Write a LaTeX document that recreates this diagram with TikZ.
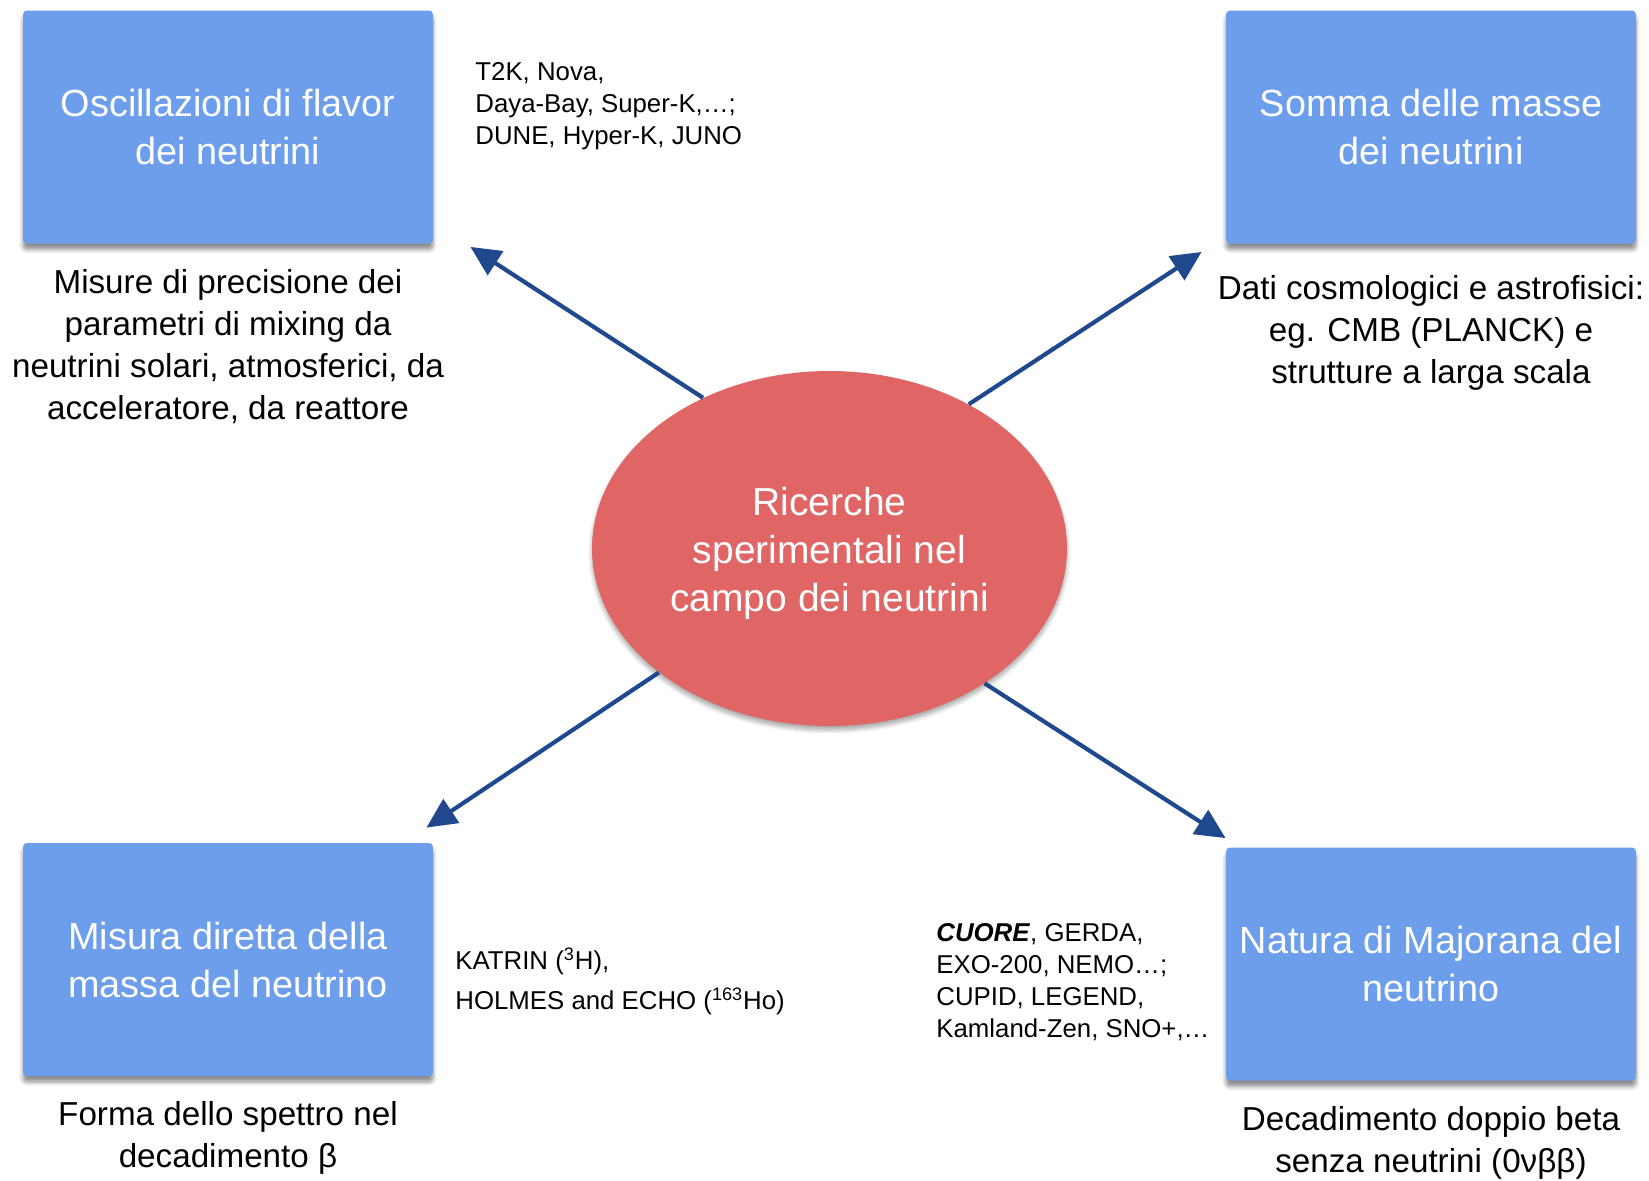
\documentclass[tikz,border=0pt]{standalone}
\usepackage{fontspec}
\setmainfont{Liberation Sans}
\usetikzlibrary{positioning,shapes.geometric,shadows.blur,arrows.meta}
\definecolor{boxblue}{RGB}{109,158,235}
\definecolor{ellred}{RGB}{224,102,102}
\definecolor{arrblue}{RGB}{31,73,140}

\begin{document}
\begin{tikzpicture}[%
x=0.5pt, y=-0.5pt,
>={Triangle[length=15pt,width=14pt]},
on grid,
topic/.style={rectangle, rounded corners=2pt, fill=boxblue, text=white,
  minimum width=205pt, minimum height=116.5pt, inner sep=2pt, align=center,
  font=\fontsize{18.9}{24}\selectfont,
  blur shadow={shadow xshift=0pt, shadow yshift=-3pt, shadow blur steps=6, shadow opacity=45}},
caption/.style={align=center, font=\fontsize{16.6}{21}\selectfont},
exps/.style={anchor=west, align=left, inner sep=0pt, font=\fontsize{12.9}{16}\selectfont},
link/.style={->, arrblue, line width=2.1pt}
]

\useasboundingbox (0,0) rectangle (1649,1180);

\node[ellipse, fill=ellred, minimum width=237.5pt, minimum height=177.5pt, inner sep=0pt,
  blur shadow={shadow xshift=0pt, shadow yshift=-2pt, shadow blur steps=6, shadow opacity=35},
  label={[text=white, align=center, font=\fontsize{19.5}{24}\selectfont, yshift=-2.6pt]center:Ricerche\\sperimentali nel\\campo dei neutrini}]
  (ric) at (829.5,548.5) {};

\node[topic] (osc) [above left=210.75pt and 300.75pt of ric] {Oscillazioni di flavor\\dei neutrini};
\node[topic] (somma) [above right=210.75pt and 300.75pt of ric] {Somma delle masse\\dei neutrini};
\node[topic] (misura) [below left=205.5pt and 300.75pt of ric] {Misura diretta della\\massa del neutrino};
\node[topic] (natura) [below right=207.75pt and 300.75pt of ric] {Natura di Majorana del\\neutrino};

\node[caption] (oscnote) [below=110pt of osc] {Misure di precisione dei\\parametri di mixing da\\neutrini solari, atmosferici, da\\acceleratore, da reattore};
\node[caption] (sommanote) [below=103pt of somma] {Dati cosmologici e astrofisici:\\eg. CMB (PLANCK) e\\strutture a larga scala};
\node[caption] (misuranote) [below=89pt of misura] {Forma dello spettro nel\\decadimento β};
\node[caption] (naturanote) [below=89.5pt of natura] {Decadimento doppio beta\\senza neutrini (0νββ)};

\node[exps] (oscexp) at (475,106) {T2K, Nova,\\Daya-Bay, Super-K,…;\\DUNE, Hyper-K, JUNO};
\node[exps, font=\fontsize{12.9}{20}\selectfont] (misuraexp) at (455,981) {KATRIN (\textsuperscript{3}H),\\HOLMES and ECHO (\textsuperscript{163}Ho)};
\node[exps] (naturaexp) at (936,982.5) {\textbf{\textit{CUORE}}, GERDA,\\EXO-200, NEMO…;\\CUPID, LEGEND,\\Kamland-Zen, SNO+,…};

\coordinate (oscend) at ([xshift=18.5pt,yshift=-1.5pt]osc.south east);
\coordinate (sommaend) at ([xshift=-12pt,yshift=-4pt]somma.south west);
\coordinate (misuraend) at ([xshift=-3.5pt,yshift=7.5pt]misura.north east);
\coordinate (naturaend) at ([yshift=4.5pt]natura.north west);

\path[link] (ric.130) edge (oscend);
\path[link] (ric.46.6) edge (sommaend);
\path[link] (ric.216.7) edge (misuraend);
\path[link] (ric.319) edge (naturaend);

\end{tikzpicture}
\end{document}
